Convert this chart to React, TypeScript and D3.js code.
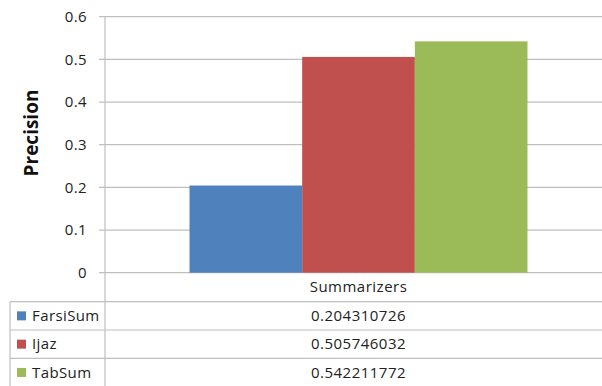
import React from "react";
import * as d3 from "d3";

// Chart data
const category = "Summarizers";
const seriesNames = ["FarsiSum", "Ijaz", "TabSum"];
const seriesValues = [0.204310726, 0.505746032, 0.542211772];
const seriesLabels = ["0.204310726", "0.505746032", "0.542211772"];
const yTicks = [0, 0.1, 0.2, 0.3, 0.4, 0.5, 0.6];
const colors = ["#4F81BD", "#C0504D", "#9BBB59"];

const W = 602;
const H = 386;
const FONT = "'Open Sans', sans-serif";

export default function App() {
  const plotLeft = 105;
  const plotRight = 612;
  const y = d3.scaleLinear().domain([0, 0.6]).range([272.7, 16.7]);
  const x0 = d3
    .scaleBand<string>()
    .domain([category])
    .range([plotLeft, plotRight])
    .paddingInner(0)
    .paddingOuter(0.25);
  const x1 = d3
    .scaleBand<string>()
    .domain(seriesNames)
    .range([0, x0.bandwidth()])
    .padding(0);

  const gridColor = "#BFBFBF";
  const tableColor = "#BFBFBF";
  const axisY = y(0);
  const rowH = 28.3;
  const tableTop = axisY + 29; // top of the series rows
  const catCenter = (x0(category) ?? 0) + x0.bandwidth() / 2;

  return (
    <svg
      width={W}
      height={H}
      style={{ position: "absolute", left: 0, top: 0, background: "#fff" }}
      fontFamily={FONT}
    >
      {/* gridlines and ticks */}
      {yTicks.map((t) => (
        <g key={t}>
          <line x1={99} x2={W} y1={y(t)} y2={y(t)} stroke={gridColor} strokeWidth={1.2} />
          <text
            x={87}
            y={y(t)}
            dy="0.35em"
            textAnchor="end"
            fontSize={15}
            letterSpacing={0.4}
            fill="#222"
          >
            {t === 0 ? "0" : d3.format(".1f")(t)}
          </text>
        </g>
      ))}
      {/* axis line through plot and table */}
      <line x1={plotLeft} x2={plotLeft} y1={y(0.6)} y2={H} stroke={tableColor} strokeWidth={1.2} />

      {/* bars */}
      {seriesNames.map((s, i) => (
        <rect
          key={s}
          x={(x0(category) ?? 0) + (x1(s) ?? 0)}
          y={y(seriesValues[i])}
          width={x1.bandwidth()}
          height={y(0) - y(seriesValues[i])}
          fill={colors[i]}
        />
      ))}

      {/* y axis title */}
      <text
        transform={`translate(38,133) rotate(-90)`}
        textAnchor="middle"
        fontSize={19}
        fontWeight="bold"
        fill="#111"
      >
        Precision
      </text>

      {/* data table */}
      <text x={catCenter} y={(axisY + tableTop) / 2} dy="0.35em" textAnchor="middle" fontSize={15} letterSpacing={0.5} fill="#222">
        {category}
      </text>
      {[0, 1, 2].map((i) => (
        <line
          key={i}
          x1={10}
          x2={W}
          y1={tableTop + i * rowH}
          y2={tableTop + i * rowH}
          stroke={tableColor}
          strokeWidth={1.2}
        />
      ))}
      <line x1={10} x2={10} y1={tableTop} y2={H} stroke={tableColor} strokeWidth={1.2} />
      {seriesNames.map((s, i) => {
        const cy = tableTop + i * rowH + rowH / 2;
        return (
          <g key={s}>
            <rect x={17} y={cy - 4.5} width={9} height={9} fill={colors[i]} />
            <text x={32} y={cy} dy="0.35em" fontSize={15} letterSpacing={0.4} fill="#222">
              {s}
            </text>
            <text x={catCenter} y={cy} dy="0.35em" textAnchor="middle" fontSize={15} letterSpacing={0.5} fill="#222">
              {seriesLabels[i]}
            </text>
          </g>
        );
      })}
    </svg>
  );
}
